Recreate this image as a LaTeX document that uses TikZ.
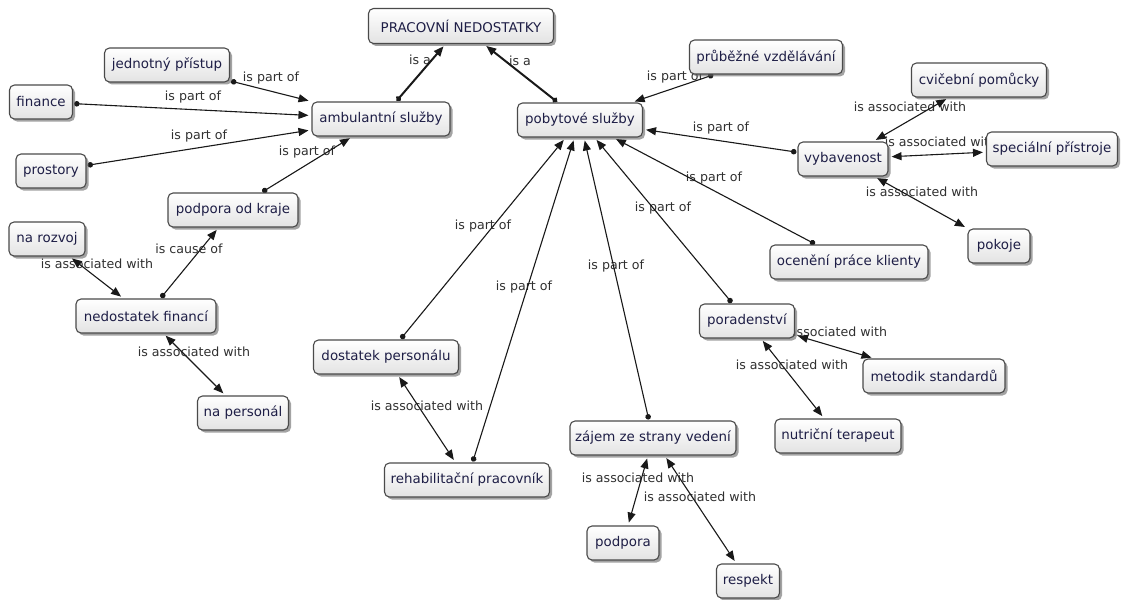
\documentclass[tikz,border=0pt]{standalone}
\usepackage{fontspec}
\newfontfamily\dejavu{DejaVu Sans}
\usetikzlibrary{arrows.meta,shadows}
\definecolor{conceptink}{HTML}{1E1E46}
\definecolor{phraseink}{HTML}{303030}
\definecolor{rim}{HTML}{4A4A4A}
\pgfdeclarelayer{background}
\pgfsetlayers{background,main}
\tikzset{
  concept/.style={draw=rim, line width=1.1pt, rounded corners=5pt,
    top color=white, bottom color=black!11, minimum height=34pt,
    inner xsep=5pt, text=conceptink,
    font=\dejavu\fontsize{13.4}{16}\selectfont,
    drop shadow={shadow xshift=2.5pt, shadow yshift=-2.5pt, fill=black!60, opacity=.6}},
  phrase/.style={font=\dejavu\fontsize{12.6}{15}\selectfont, text=phraseink, inner sep=0pt},
  partlink/.style={line width=1.1pt, draw=black!90,
    {Circle[length=5.5pt,width=5.5pt]}-{Triangle[length=10pt,width=8pt]},
    shorten <=1pt, shorten >=3pt},
  isalink/.style={partlink, line width=2pt},
  assoclink/.style={line width=1.1pt, draw=black!90,
    {Triangle[length=10pt,width=8pt]}-{Triangle[length=10pt,width=8pt]},
    shorten <=3pt, shorten >=3pt},
}
\begin{document}
\begin{tikzpicture}[x=1pt,y=-1pt]
\useasboundingbox (0,0) rectangle (1123,599);

% concepts
\node[concept, minimum width=185pt, minimum height=35pt] (prac) at (461,26) {PRACOVNÍ NEDOSTATKY};
\node[concept, minimum width=125pt] (jed) at (167,65) {jednotný přístup};
\node[concept, minimum width=63pt]  (fin) at (41,102) {finance};
\node[concept, minimum width=70pt]  (pro) at (51,171) {prostory};
\node[concept, minimum width=138pt] (amb) at (381,119) {ambulantní služby};
\node[concept, minimum width=125pt] (pob) at (580,120) {pobytové služby};
\node[concept, minimum width=153pt] (pru) at (766,57) {průběžné vzdělávání};
\node[concept, minimum width=135pt] (cvi) at (979,80) {cvičební pomůcky};
\node[concept, minimum width=90pt]  (vyb) at (843,159) {vybavenost};
\node[concept, minimum width=131pt] (spe) at (1052,149) {speciální přístroje};
\node[concept, minimum width=62pt]  (pok) at (999,246) {pokoje};
\node[concept, minimum width=158pt] (oce) at (849,262) {ocenění práce klienty};
\node[concept, minimum width=130pt] (kra) at (233,210) {podpora od kraje};
\node[concept, minimum width=76pt]  (roz) at (47,239) {na rozvoj};
\node[concept, minimum width=140pt] (ned) at (146,316) {nedostatek financí};
\node[concept, minimum width=91pt]  (npe) at (243,413) {na personál};
\node[concept, minimum width=145pt] (dos) at (386,357) {dostatek personálu};
\node[concept, minimum width=165pt] (reh) at (467,480) {rehabilitační pracovník};
\node[concept, minimum width=95pt]  (por) at (747,321) {poradenství};
\node[concept, minimum width=142pt] (met) at (934,376) {metodik standardů};
\node[concept, minimum width=126pt] (nut) at (838,436) {nutriční terapeut};
\node[concept, minimum width=166pt] (zaj) at (653,438) {zájem ze strany vedení};
\node[concept, minimum width=72pt]  (pod) at (623,543) {podpora};
\node[concept, minimum width=63pt]  (res) at (748,581) {respekt};

\begin{pgfonlayer}{background}
\fill[white] (0,0) rectangle (1123,599);

% linking phrases
\node[phrase] (p1)  at (420,60)  {is a};
\node[phrase] (p2)  at (520,61)  {is a};
\node[phrase] (p3)  at (271,78)  {is part of};
\node[phrase] (p4)  at (193,97)  {is part of};
\node[phrase] (p5)  at (199,136) {is part of};
\node[phrase] (p6)  at (307,152) {is part of};
\node[phrase] (p7)  at (189,249) {is cause of};
\node[phrase] (p8)  at (97,264)  {is associated with};
\node[phrase] (p9)  at (194,352) {is associated with};
\node[phrase] (p10) at (675,77)  {is part of};
\node[phrase] (p11) at (721,128) {is part of};
\node[phrase] (p12) at (714,178) {is part of};
\node[phrase] (p13) at (663,208) {is part of};
\node[phrase] (p14) at (616,266) {is part of};
\node[phrase] (p15) at (524,287) {is part of};
\node[phrase] (p16) at (483,226) {is part of};
\node[phrase] (p17) at (427,406) {is associated with};
\node[phrase] (p18) at (910,107) {is associated with};
\node[phrase] (p19) at (941,142) {is associated with};
\node[phrase] (p20) at (922,192) {is associated with};
\node[phrase] (p21) at (831,332) {is associated with};
\node[phrase] (p22) at (792,365) {is associated with};
\node[phrase] (p23) at (638,478) {is associated with};
\node[phrase] (p24) at (700,497) {is associated with};

% links
\draw[isalink] (amb) -- (prac);
\draw[isalink] (pob) -- (prac);
\draw[partlink] (jed) -- (amb);
\draw[partlink] (fin) -- (amb);
\draw[partlink] (pro) -- (amb);
\draw[partlink] (kra) -- (amb);
\draw[partlink] (ned) -- (kra);
\draw[assoclink] (roz) -- (ned);
\draw[assoclink] (ned) -- (npe);
\draw[partlink] (pru) -- (pob);
\draw[partlink] (vyb) -- (pob);
\draw[partlink] (oce) -- (pob);
\draw[partlink] (por) -- (pob);
\draw[partlink] (zaj) -- (pob);
\draw[partlink] (reh) -- (pob);
\draw[partlink] (dos) -- (pob);
\draw[assoclink] (dos) -- (reh);
\draw[assoclink] (cvi) -- (vyb);
\draw[assoclink] (vyb) -- (spe);
\draw[assoclink] (vyb) -- (pok);
\draw[assoclink] (por) -- (met);
\draw[assoclink] (por) -- (nut);
\draw[assoclink] (zaj) -- (pod);
\draw[assoclink] (zaj) -- (res);
\end{pgfonlayer}
\end{tikzpicture}
\end{document}
